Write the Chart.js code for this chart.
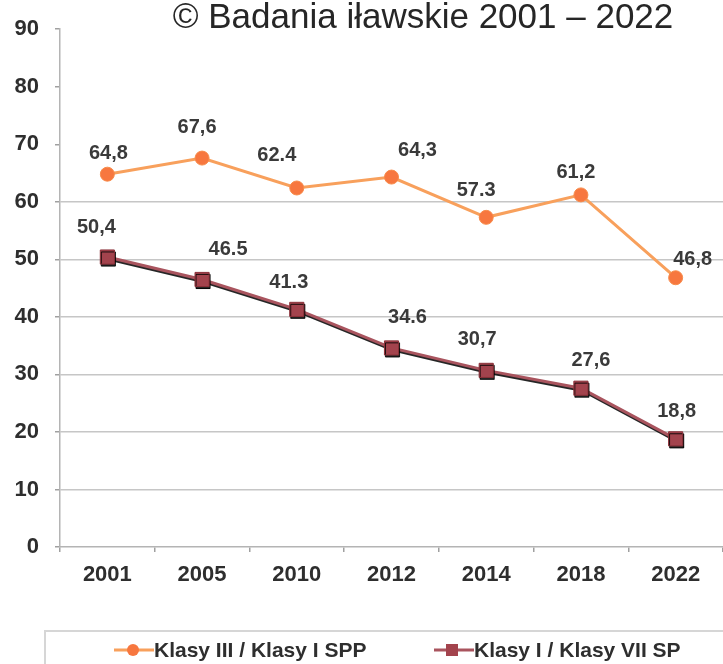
<!DOCTYPE html>
<html>
<head>
<meta charset="utf-8">
<script src="https://cdn.jsdelivr.net/npm/chart.js@4/dist/chart.umd.min.js"></script>
<style>
  html, body { margin: 0; padding: 0; background: #fff; }
  #wrap { position: relative; width: 723px; height: 664px; overflow: hidden; background: #fff; }
  #c { position: absolute; left: 0; top: 0; }
  #legend { position: absolute; left: 44px; top: 630px; width: 700px; height: 60px;
            border-top: 2px solid #d6d6d6; border-left: 2px solid #d6d6d6; box-sizing: border-box; }
  .item { position: absolute; top: 6px; display: flex; align-items: center;
          font: bold 21px "Liberation Sans", Arial, sans-serif; color: #2e2e2e; white-space: nowrap; }
  .item svg { display: block; margin-right: 0; }
</style>
</head>
<body>
<div id="wrap">
  <canvas id="c" width="723" height="664"></canvas>
  <div id="legend"></div>
</div>
<script>
const titleText = '© Badania iławskie 2001 – 2022';
const categories = ['2001', '2005', '2010', '2012', '2014', '2018', '2022'];
const seriesNames = ['Klasy III / Klasy I SPP', 'Klasy I / Klasy VII SP'];
const seriesA = [64.8, 67.6, 62.4, 64.3, 57.3, 61.2, 46.8];
const seriesB = [50.4, 46.5, 41.3, 34.6, 30.7, 27.6, 18.8];
const labelsA = ['64,8', '67,6', '62.4', '64,3', '57.3', '61,2', '46,8'];
const labelsB = ['50,4', '46.5', '41.3', '34.6', '30,7', '27,6', '18,8'];
const yMin = 0, yMax = 90, yStep = 10;

// label placement (style only)
const labelOffsets = [
  [[1,-21],[-5,-31],[-20,-33],[26,-27],[-10,-27],[-5,-22],[17,-18]],
  [[-11,-30],[26,-30],[-8,-27],[16,-30],[-9,-31],[10,-28],[1,-27]]
];

const FONT = '"Liberation Sans", Arial, sans-serif';

const titlePlugin = {
  id: 'titleText',
  afterDraw(chart) {
    const ctx = chart.ctx;
    ctx.save();
    ctx.font = '35px ' + FONT;
    ctx.fillStyle = '#262626';
    ctx.textAlign = 'center';
    ctx.textBaseline = 'alphabetic';
    ctx.fillText(titleText, 423, 28);
    ctx.restore();
  }
};

const shadowPlugin = {
  id: 'lineShadow',
  beforeDatasetDraw(chart, args) {
    if (args.index === 1) {
      const ctx = chart.ctx;
      ctx.save();
      ctx.shadowColor = 'rgba(0,0,0,0.85)';
      ctx.shadowOffsetX = 1;
      ctx.shadowOffsetY = 2;
      ctx.shadowBlur = 0.5;
    }
  },
  afterDatasetDraw(chart, args) {
    if (args.index === 1) chart.ctx.restore();
  }
};

const valueLabels = {
  id: 'valueLabels',
  afterDatasetsDraw(chart) {
    const ctx = chart.ctx;
    const texts = [labelsA, labelsB];
    ctx.save();
    ctx.font = 'bold 20px ' + FONT;
    ctx.fillStyle = '#3a3a3a';
    ctx.textAlign = 'center';
    ctx.textBaseline = 'middle';
    chart.data.datasets.forEach((ds, di) => {
      const meta = chart.getDatasetMeta(di);
      meta.data.forEach((pt, i) => {
        const off = labelOffsets[di][i];
        ctx.fillText(texts[di][i], pt.x + off[0], pt.y + off[1]);
      });
    });
    ctx.restore();
  }
};

const chart = new Chart(document.getElementById('c'), {
  type: 'line',
  data: {
    labels: categories,
    datasets: [
      {
        label: seriesNames[0],
        data: seriesA,
        borderColor: '#F8A05C',
        borderWidth: 3,
        backgroundColor: '#F7773F',
        pointBackgroundColor: '#F7773F',
        pointBorderColor: '#F78B4A',
        pointBorderWidth: 1,
        pointRadius: 7,
        pointStyle: 'circle',
        tension: 0,
        clip: false
      },
      {
        label: seriesNames[1],
        data: seriesB,
        borderColor: '#A9545E',
        borderWidth: 3,
        backgroundColor: '#A3434D',
        pointBackgroundColor: '#A3434D',
        pointBorderColor: '#8A3038',
        pointBorderWidth: 1,
        pointRadius: 10,
        pointStyle: 'rect',
        tension: 0,
        clip: false
      }
    ]
  },
  options: {
    responsive: false,
    animation: false,
    devicePixelRatio: 1,
    layout: { autoPadding: false, padding: { top: 25, right: 0, bottom: 67, left: 0 } },
    plugins: {
      legend: { display: false },
      title: { display: false },
      tooltip: { enabled: false }
    },
    scales: {
      x: {
        type: 'category',
        offset: true,
        grid: {
          offset: true,
          drawOnChartArea: false,
          drawTicks: true,
          tickLength: 5,
          tickColor: '#a0a0a0',
          lineWidth: 1.5
        },
        border: { display: true, color: '#b4b4b4', width: 1.5 },
        ticks: {
          color: '#2e2e2e',
          font: { family: FONT, size: 22, weight: 'bold' },
          padding: 10,
          maxRotation: 0,
          autoSkip: false
        },
        afterFit(scale) {
          scale.height = 50;
          scale.paddingLeft = 0;
          scale.paddingRight = 0;
        }
      },
      y: {
        min: yMin,
        max: yMax,
        ticks: {
          stepSize: yStep,
          color: '#2e2e2e',
          font: { family: FONT, size: 22, weight: 'bold' },
          padding: 16
        },
        grid: {
          color(ctx) {
            const v = ctx.tick ? ctx.tick.value : 0;
            if (v <= 0 || v >= 70) return 'rgba(0,0,0,0)';
            return '#c6c6c6';
          },
          lineWidth: 1.5,
          tickLength: 5,
          tickColor: '#a0a0a0'
        },
        border: { display: true, color: '#b4b4b4', width: 1.5 },
        afterFit(scale) { scale.width = 60; }
      }
    }
  },
  plugins: [titlePlugin, shadowPlugin, valueLabels]
});

// HTML legend built from the datasets
const legendX = [68, 388];
const legend = document.getElementById('legend');
chart.data.datasets.forEach((ds, i) => {
  const item = document.createElement('div');
  item.className = 'item';
  item.style.left = legendX[i] + 'px';
  const ns = 'http://www.w3.org/2000/svg';
  const svg = document.createElementNS(ns, 'svg');
  svg.setAttribute('width', '40');
  svg.setAttribute('height', '16');
  const line = document.createElementNS(ns, 'line');
  line.setAttribute('x1', '0'); line.setAttribute('x2', '40');
  line.setAttribute('y1', '8'); line.setAttribute('y2', '8');
  line.setAttribute('stroke', ds.borderColor);
  line.setAttribute('stroke-width', '3');
  svg.appendChild(line);
  let mk;
  if (ds.pointStyle === 'rect') {
    mk = document.createElementNS(ns, 'rect');
    mk.setAttribute('x', '12'); mk.setAttribute('y', '2');
    mk.setAttribute('width', '12'); mk.setAttribute('height', '12');
  } else {
    mk = document.createElementNS(ns, 'circle');
    mk.setAttribute('cx', '19'); mk.setAttribute('cy', '8'); mk.setAttribute('r', '6');
  }
  mk.setAttribute('fill', ds.pointBackgroundColor);
  svg.appendChild(mk);
  item.appendChild(svg);
  const span = document.createElement('span');
  span.textContent = ds.label;
  item.appendChild(span);
  legend.appendChild(item);
});
</script>
</body>
</html>
